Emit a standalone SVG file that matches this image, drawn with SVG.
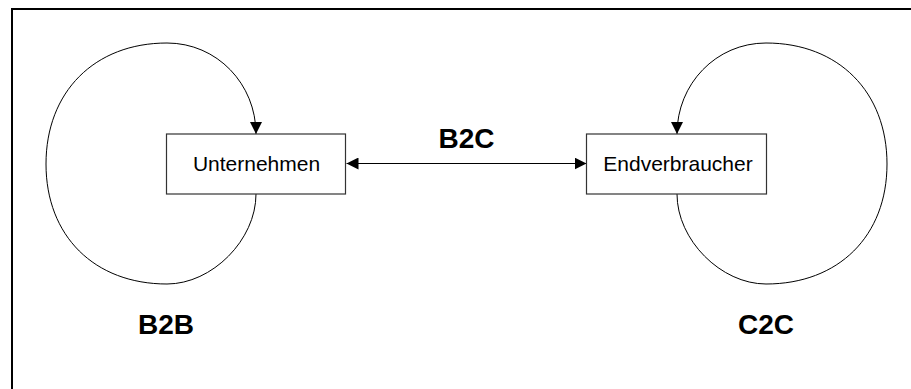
<svg xmlns="http://www.w3.org/2000/svg" width="911" height="389" viewBox="0 0 911 389">
<style>
.box{fill:#fff;stroke:#333;stroke-width:1.2}
.lbl{font-family:"Liberation Sans",Arial,sans-serif;font-size:21px;fill:#000;text-anchor:middle}
.big{font-family:"Liberation Sans",Arial,sans-serif;font-size:28px;font-weight:bold;fill:#000;text-anchor:middle}
.conn{fill:none;stroke:#000;stroke-width:1}
</style>
<defs>
<marker id="ah" viewBox="0 0 12 12" refX="12" refY="6" markerWidth="12" markerHeight="12" markerUnits="userSpaceOnUse" orient="auto-start-reverse">
<path d="M0,0 L12,6 L0,12 z" fill="#000"/>
</marker>
</defs>
<rect width="911" height="389" fill="#fff"/>
<path d="M12,389 V9 H911" fill="none" stroke="#000" stroke-width="2"/>
<g id="connectors">
<path class="conn" d="M256,194 C256,240 212,284 167,284 C94.4,284 46,236 46,164 C46,92 94.4,43 167,43 C217,43 256,84 256,134" marker-end="url(#ah)"/>
<path class="conn" d="M677,194 C677,240 721,284 766,284 C838.6,284 887,236 887,164 C887,92 838.6,43 766,43 C716,43 677,84 677,134" marker-end="url(#ah)"/>
<path class="conn" d="M346.5,163.5 H586.5" marker-start="url(#ah)" marker-end="url(#ah)"/>
</g>
<g id="unternehmen">
<rect class="box" x="166.5" y="134" width="179" height="60"/>
<text class="lbl" x="256.5" y="171">Unternehmen</text>
</g>
<g id="endverbraucher">
<rect class="box" x="586.5" y="134" width="180" height="60"/>
<text class="lbl" x="678" y="171">Endverbraucher</text>
</g>
<text class="big" x="466.5" y="148">B2C</text>
<text class="big" x="166" y="334">B2B</text>
<text class="big" x="766" y="334">C2C</text>
</svg>
